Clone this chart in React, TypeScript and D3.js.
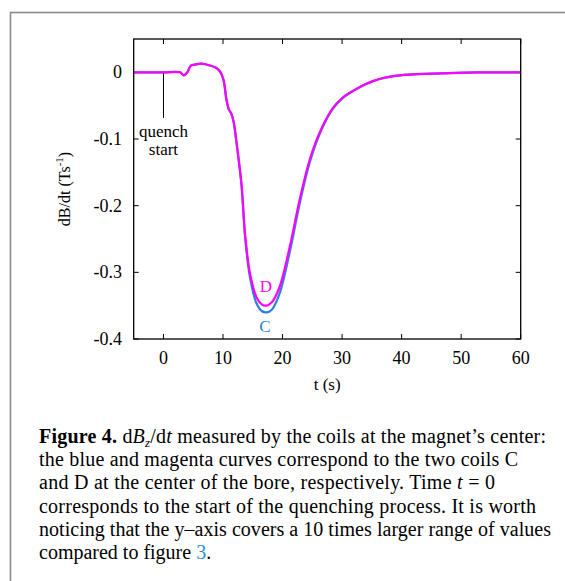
import React, { useEffect, useRef } from "react";
import * as d3 from "d3";

// time (s) and dB/dt (T/s) for coils C and D
const tVals = [-5, 0, 2.8, 3.4, 4.0, 4.6, 5.5, 6.4, 7.5, 8.9, 9.6, 10.1, 10.6, 11.0, 11.4, 11.8, 12.3, 13.1, 13.7, 14.5, 15.6, 16.5, 17.3, 18.2, 19.5, 21.2, 22.9, 24.6, 26.5, 28.5, 30.2, 31.3, 34.1, 36.9, 39.7, 45.3, 50.9, 55, 60];
const coilD = [0, 0, 0, -0.0045, 0.0, 0.010, 0.012, 0.013, 0.011, 0.0065, 0.0, -0.012, -0.042, -0.056, -0.062, -0.075, -0.107, -0.167, -0.242, -0.30, -0.337, -0.348, -0.350, -0.345, -0.322, -0.262, -0.19, -0.13, -0.085, -0.053, -0.037, -0.0305, -0.017, -0.0085, -0.0045, -0.002, -0.0005, 0, 0];
const coilC = [0, 0, 0, -0.0045, 0.0, 0.010, 0.012, 0.013, 0.011, 0.0065, 0.0, -0.012, -0.042, -0.056, -0.062, -0.075, -0.108, -0.169, -0.246, -0.306, -0.346, -0.358, -0.360, -0.356, -0.332, -0.27, -0.196, -0.134, -0.087, -0.054, -0.038, -0.031, -0.017, -0.0085, -0.0045, -0.002, -0.0005, 0, 0];

const xTicks = [0, 10, 20, 30, 40, 50, 60];
const yTicks = [0, -0.1, -0.2, -0.3, -0.4];
const yTickLabels = ["0", "-0.1", "-0.2", "-0.3", "-0.4"];

const W = 565, H = 581;
const M = { left: 133.7, right: 520.7, top: 39, bottom: 339 };
const serif = "'Liberation Serif', 'Times New Roman', serif";

export default function App() {
  const ref = useRef<SVGSVGElement>(null);

  useEffect(() => {
    const svg = d3.select(ref.current);
    svg.selectAll("*").remove();

    const x = d3.scaleLinear().domain([-5, 60]).range([M.left, M.right]);
    const y = d3.scaleLinear().domain([-0.4, 0.05]).range([M.bottom, M.top]);

    // outer figure box
    svg.append("rect")
      .attr("x", 10.5).attr("y", 12.5).attr("width", 620).attr("height", 620)
      .attr("fill", "none").attr("stroke", "#8a8a8a").attr("stroke-width", 1.6);

    const g = svg.append("g");

    // ticks (inward, all four sides)
    const tk = 5;
    xTicks.forEach((t) => {
      g.append("line").attr("x1", x(t)).attr("x2", x(t)).attr("y1", M.bottom).attr("y2", M.bottom - tk)
        .attr("stroke", "#000").attr("stroke-width", 1);
      g.append("line").attr("x1", x(t)).attr("x2", x(t)).attr("y1", M.top).attr("y2", M.top + tk)
        .attr("stroke", "#000").attr("stroke-width", 1);
      g.append("text").attr("x", x(t)).attr("y", 364).attr("text-anchor", "middle")
        .attr("font-family", serif).attr("font-size", 18).text(String(t));
    });
    yTicks.forEach((v, i) => {
      g.append("line").attr("x1", M.left).attr("x2", M.left + tk).attr("y1", y(v)).attr("y2", y(v))
        .attr("stroke", "#000").attr("stroke-width", 1);
      g.append("line").attr("x1", M.right).attr("x2", M.right - tk).attr("y1", y(v)).attr("y2", y(v))
        .attr("stroke", "#000").attr("stroke-width", 1);
      g.append("text").attr("x", 122).attr("y", y(v) + 6).attr("text-anchor", "end")
        .attr("font-family", serif).attr("font-size", 18).text(yTickLabels[i]);
    });

    // quench start marker
    g.append("line").attr("x1", x(0)).attr("x2", x(0)).attr("y1", y(0)).attr("y2", 118)
      .attr("stroke", "#000").attr("stroke-width", 1);
    g.append("text").attr("x", x(0)).attr("y", 137).attr("text-anchor", "middle")
      .attr("font-family", serif).attr("font-size", 17).text("quench");
    g.append("text").attr("x", x(0)).attr("y", 155).attr("text-anchor", "middle")
      .attr("font-family", serif).attr("font-size", 17).text("start");

    const line = (vals: number[]) =>
      d3.line<number>()
        .x((_, i) => x(tVals[i]))
        .y((d) => y(d))
        .curve(d3.curveCatmullRom.alpha(0.5))(vals);

    g.append("path").attr("d", line(coilC)).attr("fill", "none")
      .attr("stroke", "#2a7fe0").attr("stroke-width", 2.2);
    g.append("path").attr("d", line(coilD)).attr("fill", "none")
      .attr("stroke", "#ff00ff").attr("stroke-width", 2.2);

    g.append("text").attr("x", 266).attr("y", 292).attr("text-anchor", "middle")
      .attr("font-family", serif).attr("font-size", 17).attr("fill", "#ff00ff").text("D");
    g.append("text").attr("x", 265).attr("y", 332).attr("text-anchor", "middle")
      .attr("font-family", serif).attr("font-size", 17).attr("fill", "#2a7fe0").text("C");

    // frame
    g.append("rect").attr("x", M.left).attr("y", M.top)
      .attr("width", M.right - M.left).attr("height", M.bottom - M.top)
      .attr("fill", "none").attr("stroke", "#000").attr("stroke-width", 1.3);

    // axis labels
    g.append("text").attr("x", (M.left + M.right) / 2).attr("y", 390).attr("text-anchor", "middle")
      .attr("font-family", serif).attr("font-size", 17).text("t (s)");

    const yl = g.append("text")
      .attr("transform", `translate(70,${(M.top + M.bottom) / 2}) rotate(-90)`)
      .attr("text-anchor", "middle").attr("font-family", serif).attr("font-size", 16);
    yl.append("tspan").text("dB/dt (Ts");
    yl.append("tspan").attr("dy", -7).attr("font-size", 11).text("-1");
    yl.append("tspan").attr("dy", 7).text(")");

    // caption
    const cap = svg.append("g").attr("font-family", serif).attr("font-size", 20);
    const lh = 23.2, x0 = 39, y0 = 443;
    const fit = (t: any, w: number) => t.attr("textLength", w).attr("lengthAdjust", "spacing");
    const l1 = fit(cap.append("text").attr("x", x0).attr("y", y0), 507);
    l1.append("tspan").attr("font-weight", "bold").text("Figure 4.");
    l1.append("tspan").text(" d");
    l1.append("tspan").attr("font-style", "italic").text("B");
    l1.append("tspan").attr("font-style", "italic").attr("font-size", 13).attr("dy", 4).text("z");
    l1.append("tspan").attr("dy", -4).text("/d");
    l1.append("tspan").attr("font-style", "italic").text("t");
    l1.append("tspan").text(" measured by the coils at the magnet\u2019s center:");
    fit(cap.append("text").attr("x", x0).attr("y", y0 + lh), 479)
      .text("the blue and magenta curves correspond to the two coils C");
    const l3 = fit(cap.append("text").attr("x", x0).attr("y", y0 + 2 * lh), 456);
    l3.append("tspan").text("and D at the center of the bore, respectively. Time ");
    l3.append("tspan").attr("font-style", "italic").text("t");
    l3.append("tspan").text(" = 0");
    fit(cap.append("text").attr("x", x0).attr("y", y0 + 3 * lh), 497)
      .text("corresponds to the start of the quenching process. It is worth");
    fit(cap.append("text").attr("x", x0).attr("y", y0 + 4 * lh), 512)
      .text("noticing that the y\u2013axis covers a 10 times larger range of values");
    const l6 = cap.append("text").attr("x", x0).attr("y", y0 + 5 * lh);
    l6.append("tspan").text("compared to figure ");
    l6.append("tspan").attr("fill", "#2a8fd0").text("3");
    l6.append("tspan").text(".");
  }, []);

  return (
    <svg ref={ref} width={W} height={H}
      style={{ position: "absolute", left: 0, top: 0, background: "#fff" }} />
  );
}
